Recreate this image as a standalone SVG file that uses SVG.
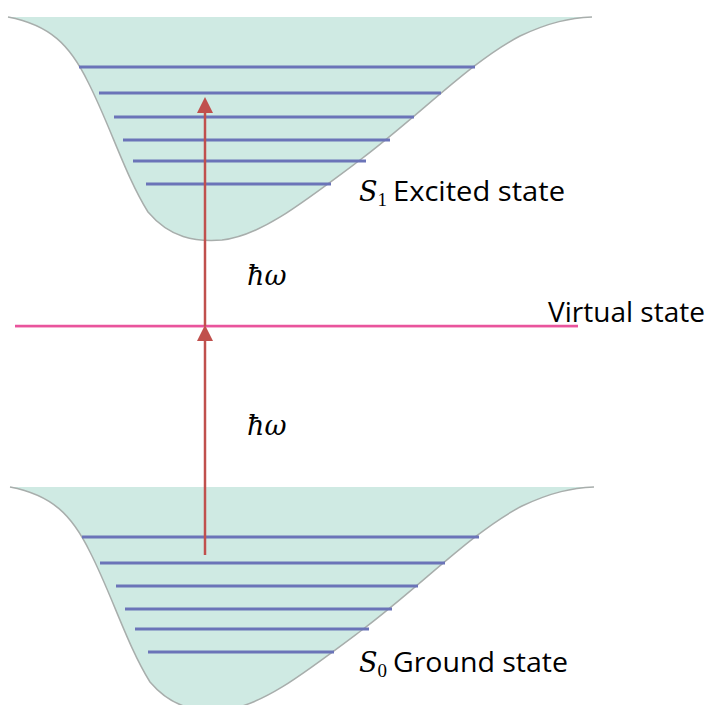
<svg xmlns="http://www.w3.org/2000/svg" width="710" height="705" viewBox="0 0 710 705">
<style>
.fill{fill:#cfeae3;stroke:none}
.edge{fill:none;stroke:#a8aeac;stroke-width:1.5}
.lvl{stroke:#6b74b8;stroke-width:3;stroke-linecap:butt}
.arr{stroke:#c0504d;stroke-width:2.5;fill:none}
.lab{font-family:"Open Sans","Liberation Sans",sans-serif;font-size:27px;fill:#000}
.math{font-family:"DejaVu Serif","Liberation Serif",serif;font-style:italic;font-size:27px;fill:#000}
.sub{font-family:"Liberation Serif",serif;font-size:19px}
</style>
<g id="excited">
<path class="fill" d="M8,17 C50,25 70,45 88,82 C110,125 125,175 148,212 C170,238 195,242 222,240 C260,236 300,205 360,160 C420,115 470,62 520,36 C550,22 570,18 592,17 Z"/>
<path class="edge" d="M8,17 C50,25 70,45 88,82 C110,125 125,175 148,212 C170,238 195,242 222,240 C260,236 300,205 360,160 C420,115 470,62 520,36 C550,22 570,18 592,17"/>
<g>
<line class="lvl" x1="79" y1="67" x2="475" y2="67"/>
<line class="lvl" x1="99" y1="93" x2="441" y2="93"/>
<line class="lvl" x1="114" y1="117" x2="414" y2="117"/>
<line class="lvl" x1="123" y1="140" x2="390" y2="140"/>
<line class="lvl" x1="133" y1="161" x2="366" y2="161"/>
<line class="lvl" x1="146" y1="184" x2="331" y2="184"/>
</g>
<text class="math" x="359" y="201">S<tspan class="sub" dy="5" font-style="normal">1</tspan></text>
<text class="lab" x="393" y="201" textLength="172" lengthAdjust="spacingAndGlyphs">Excited state</text>
</g>
<g id="ground">
<path class="fill" d="M10,487 C52,495 72,515 90,552 C112,595 127,645 150,682 C172,708 197,712 224,710 C262,706 302,675 362,630 C422,585 472,532 522,506 C552,492 572,488 594,487 Z"/>
<path class="edge" d="M10,487 C52,495 72,515 90,552 C112,595 127,645 150,682 C172,708 197,712 224,710 C262,706 302,675 362,630 C422,585 472,532 522,506 C552,492 572,488 594,487"/>
<g>
<line class="lvl" x1="82" y1="537" x2="479" y2="537"/>
<line class="lvl" x1="100" y1="563" x2="445" y2="563"/>
<line class="lvl" x1="116" y1="586" x2="418" y2="586"/>
<line class="lvl" x1="125" y1="609" x2="392" y2="609"/>
<line class="lvl" x1="135" y1="629" x2="369" y2="629"/>
<line class="lvl" x1="148" y1="652" x2="334" y2="652"/>
</g>
<text class="math" x="359" y="672">S<tspan class="sub" dy="5" font-style="normal">0</tspan></text>
<text class="lab" x="393" y="672" textLength="175" lengthAdjust="spacingAndGlyphs">Ground state</text>
</g>
<g id="virtual">
<line x1="15" y1="326" x2="578" y2="326" stroke="#e9549d" stroke-width="2.5"/>
<line x1="15" y1="327.5" x2="578" y2="327.5" stroke="#f7b3d2" stroke-width="1"/>
<text class="lab" x="548" y="322" textLength="157" lengthAdjust="spacingAndGlyphs">Virtual state</text>
</g>
<g id="connectors">
<line class="arr" x1="205" y1="555" x2="205" y2="340"/>
<path d="M197,341 L205,325 L213,341 Z" fill="#c0504d"/>
<line class="arr" x1="205" y1="326" x2="205" y2="112"/>
<path d="M197,113 L205,97 L213,113 Z" fill="#c0504d"/>
<text class="math" x="247" y="285">ħω</text>
<text class="math" x="247" y="435">ħω</text>
</g>
</svg>
